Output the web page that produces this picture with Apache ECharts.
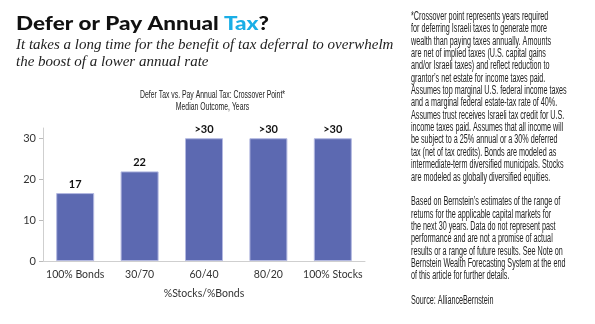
<!DOCTYPE html>
<html>
<head>
<meta charset="utf-8">
<script src="https://cdn.jsdelivr.net/npm/echarts@6/dist/echarts.min.js"></script>
<style>
html,body{margin:0;padding:0;background:#fff;}
#chart{width:595px;height:324px;}
</style>
</head>
<body>
<div id="chart"></div>
<script>
// ---- data ----
var categories = ['100% Bonds', '30/70', '60/40', '80/20', '100% Stocks'];
var values = [16.6, 21.9, 30, 30, 30];
var valueLabels = ['17', '22', '>30', '>30', '>30'];
var yTicks = [0, 10, 20, 30];

var footnoteLines = [
  '*Crossover point represents years required',
  'for deferring Israeli taxes to generate more',
  'wealth than paying taxes annually. Amounts',
  'are net of implied taxes (U.S. capital gains',
  'and/or Israeli taxes) and reflect reduction to',
  'grantor\u2019s net estate for income taxes paid.',
  'Assumes top marginal U.S. federal income taxes',
  'and a marginal federal estate-tax rate of 40%.',
  'Assumes trust receives Israeli tax credit for U.S.',
  'income taxes paid. Assumes that all income will',
  'be subject to a 25% annual or a 30% deferred',
  'tax (net of tax credits). Bonds are modeled as',
  'intermediate-term diversified municipals. Stocks',
  'are modeled as globally diversified equities.',
  '',
  'Based on Bernstein\u2019s estimates of the range of',
  'returns for the applicable capital markets for',
  'the next 30 years. Data do not represent past',
  'performance and are not a promise of actual',
  'results or a range of future results. See Note on',
  'Bernstein Wealth Forecasting System at the end',
  'of this article for further details.',
  '',
  'Source: AllianceBernstein'
];

var chart = echarts.init(document.getElementById('chart'), null, {renderer: 'canvas'});
var cond = '"Liberation Sans", Arial, sans-serif';
var sans = 'Lato, "Noto Sans", sans-serif';

var mctx = document.createElement('canvas').getContext('2d');
function textW(str, font) { mctx.font = font; return mctx.measureText(str).width; }

// horizontal compression factors so condensed text fits the reference widths
var footScale = 140 / textW('wealth than paying taxes annually. Amounts', '12px ' + cond);
var chartTitleScale = 145 / textW('Defer Tax vs. Pay Annual Tax: Crossover Point*', '11px ' + cond);
var titleScale = 253 / textW('Defer or Pay Annual Tax?', '900 19px ' + sans);

var option = {
  animation: false,
  backgroundColor: '#fff',
  grid: {left: 43, right: 230, top: 128, bottom: 63, containLabel: false},
  xAxis: {
    type: 'category',
    data: categories,
    name: '%Stocks/%Bonds',
    nameLocation: 'middle',
    nameGap: 27,
    nameTextStyle: {fontFamily: sans, fontSize: 10.5, color: '#333'},
    axisLine: {lineStyle: {color: '#cfcfcf', width: 1}},
    axisTick: {show: false},
    axisLabel: {fontFamily: sans, fontSize: 10.5, color: '#333', margin: 8, interval: 0}
  },
  yAxis: {
    type: 'value',
    min: 0,
    max: 32.5,
    interval: 10,
    axisLine: {show: true, lineStyle: {color: '#cfcfcf', width: 1}},
    axisTick: {show: true, length: 4, lineStyle: {color: '#bbb'}, customValues: yTicks},
    axisLabel: {fontFamily: sans, fontSize: 11, color: '#333', margin: 7, customValues: yTicks},
    splitLine: {show: false}
  },
  series: [{
    type: 'bar',
    data: values,
    barWidth: 38,
    itemStyle: {color: '#5c69b1', borderColor: '#b3b8e0', borderWidth: 1},
    label: {
      show: true,
      position: 'top',
      distance: 3,
      fontFamily: sans,
      fontWeight: 'bold',
      fontSize: 11,
      color: '#111',
      formatter: function (p) { return valueLabels[p.dataIndex]; }
    }
  }],
  graphic: [
    {
      type: 'text', x: 16, y: 14, scaleX: titleScale,
      style: {
        text: '{a|Defer or Pay Annual }{b|Tax}{a|?}',
        rich: {
          a: {fontFamily: sans, fontWeight: 900, fontSize: 19, fill: '#111'},
          b: {fontFamily: sans, fontWeight: 900, fontSize: 19, fill: '#1aaee6'}
        }
      }
    },
    {
      type: 'text', x: 16, y: 37,
      style: {
        text: 'It takes a long time for the benefit of tax deferral to overwhelm\nthe boost of a lower annual rate',
        fontFamily: '"Liberation Serif", "DejaVu Serif", serif',
        fontStyle: 'italic', fontSize: 15, lineHeight: 16.5, fill: '#222'
      }
    },
    {
      type: 'text', x: 212.5, y: 88.5, scaleX: chartTitleScale,
      style: {
        text: 'Defer Tax vs. Pay Annual Tax: Crossover Point*\nMedian Outcome, Years',
        align: 'center',
        fontFamily: cond, fontSize: 11, lineHeight: 12.5, fill: '#222'
      }
    },
    {
      type: 'text', x: 411, y: 10.5, scaleX: footScale,
      style: {
        text: footnoteLines.join('\n'),
        fontFamily: cond, fontSize: 12, lineHeight: 12.35, fill: '#222'
      }
    }
  ]
};
chart.setOption(option);
</script>
</body>
</html>
